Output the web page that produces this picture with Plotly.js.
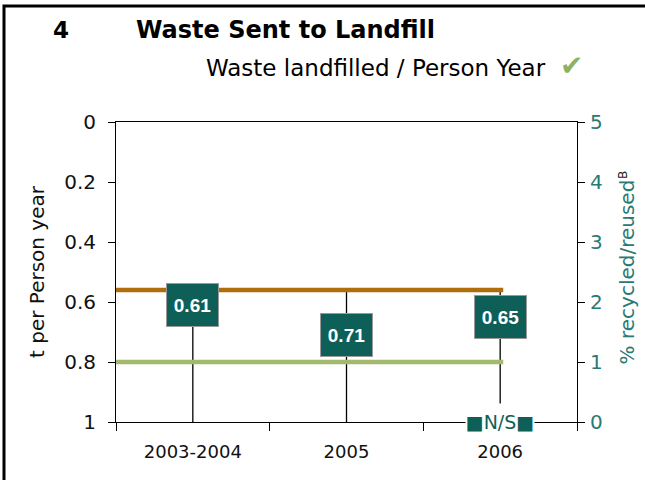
<!DOCTYPE html>
<html><head><meta charset="utf-8">
<script src="https://cdn.plot.ly/plotly-3.0.1.min.js"></script>
<style>html,body{margin:0;padding:0;background:#fff;}#chart{width:645px;height:480px;}</style>
</head><body><div id="chart"></div>
<script>
// ---- data ----
const categories = ['2003-2004', '2005', '2006'];
const landfillPerPerson = [0.61, 0.71, 0.65];      // t per person year (boxed labels)
const recycledLabels = [null, null, 'N/S'];          // % recycled/reused
const landfillTarget = 0.56;                          // orange line
const landfillBenchmark = 0.8;                        // green line
const targetSpan = [-0.5, 2.02];                      // x extent of the two reference lines
const yTickVals = [0, 0.2, 0.4, 0.6, 0.8, 1];
const yTickText = ['0', '0.2', '0.4', '0.6', '0.8', '1'];
const y2TickVals = [0, 1, 2, 3, 4, 5];
const categoryBounds = [-0.5, 0.5, 1.5, 2.5];

// ---- styles ----
const FONT = 'DejaVu Sans, Liberation Sans, Arial, sans-serif';
const FONT_BOX = 'Liberation Sans, Arial, sans-serif';
const TEAL = '#0f5f59';
const TEAL_TXT = '#2a7a73';
const ORANGE = '#b06d0c';
const GREEN = '#a3b96d';

const idx = categories.map((c, i) => i);

// drop lines from the target line down to the axis
const dropX = [], dropY = [];
idx.forEach(i => { dropX.push(i, i, null); dropY.push(landfillTarget, 1, null); });

const traces = [
  { x: dropX, y: dropY, mode: 'lines', line: { color: '#000', width: 1.3 }, hoverinfo: 'skip', showlegend: false },
  { x: targetSpan, y: [landfillTarget, landfillTarget], mode: 'lines', line: { color: ORANGE, width: 4.5 }, hoverinfo: 'skip', showlegend: false },
  { x: targetSpan, y: [landfillBenchmark, landfillBenchmark], mode: 'lines', line: { color: GREEN, width: 4.5 }, hoverinfo: 'skip', showlegend: false },
  { x: idx, y: idx.map(() => null), yaxis: 'y2', mode: 'markers', hoverinfo: 'skip', showlegend: false }
];

const annotations = [];
landfillPerPerson.forEach((v, i) => {
  annotations.push({
    x: i, y: v, xref: 'x', yref: 'y', text: '<b>' + v.toFixed(2) + '</b>', showarrow: false,
    font: { family: FONT_BOX, size: 19, color: '#fff' }, bgcolor: TEAL, bordercolor: '#9a9a9a',
    borderwidth: 1, borderpad: 0, width: 51, height: 42, xanchor: 'center', yanchor: 'middle'
  });
});
recycledLabels.forEach((t, i) => {
  if (!t) return;
  annotations.push({
    x: i, y: 1, xref: 'x', yref: 'y', text: '■' + t + '■', showarrow: false,
    font: { family: FONT, size: 19, color: TEAL }, bgcolor: '#fff', borderpad: 0,
    width: 68, height: 36, xanchor: 'center', yanchor: 'middle'
  });
});
// header texts (paper coords)
const px = p => (p - 116) / 461, py = p => (422 - p) / 300;
annotations.push(
  { xref: 'paper', yref: 'paper', x: px(51), y: py(30), xanchor: 'left', yanchor: 'middle', showarrow: false,
    text: '<b>4</b>', font: { family: FONT, size: 23, color: '#000' } },
  { xref: 'paper', yref: 'paper', x: px(548), y: py(68), xanchor: 'right', yanchor: 'middle', showarrow: false,
    text: 'Waste landfilled / Person Year', font: { family: FONT, size: 23, color: '#000' } },
  { xref: 'paper', yref: 'paper', x: px(571), y: py(66), xanchor: 'center', yanchor: 'middle', showarrow: false,
    text: '✔', font: { family: FONT, size: 28, color: '#8fb25e' } },
  // footnote marker of the right axis title
  { xref: 'paper', yref: 'paper', x: px(623), y: py(175), xanchor: 'center', yanchor: 'middle', showarrow: false,
    textangle: -90, text: 'B', font: { family: FONT, size: 12, color: '#222' } }
);

const layout = {
  width: 645, height: 480,
  margin: { l: 116, r: 68, t: 122, b: 58 },
  paper_bgcolor: '#fff', plot_bgcolor: '#fff',
  showlegend: false,
  font: { family: FONT, color: '#000' },
  title: {
    text: '<b>Waste Sent to Landfill</b>', font: { family: FONT, size: 24, color: '#000' },
    xref: 'paper', x: px(136), xanchor: 'left', yref: 'container', y: 1 - 30 / 480, yanchor: 'middle'
  },
  xaxis: {
    range: [-0.5, 2.5], tickmode: 'array', tickvals: idx, ticktext: categories, ticks: '',
    showline: true, linecolor: '#000', linewidth: 1, mirror: true, showgrid: false, zeroline: false,
    tickfont: { family: FONT, size: 18, color: '#111' }, ticklabelstandoff: 13,
    minor: { tickmode: 'array', tickvals: categoryBounds, ticks: 'outside', ticklen: 8, tickwidth: 1, tickcolor: '#000', showgrid: false }
  },
  yaxis: {
    range: [1, 0], tickmode: 'array', tickvals: yTickVals, ticktext: yTickText,
    ticks: 'outside', ticklen: 7, tickwidth: 1, tickcolor: '#000',
    showline: true, linecolor: '#000', linewidth: 1, showgrid: false, zeroline: false,
    tickfont: { family: FONT, size: 20, color: '#111' }, ticklabelstandoff: 8,
    title: { text: 't per Person year', font: { family: FONT, size: 20, color: '#111' }, standoff: 14 }
  },
  yaxis2: {
    overlaying: 'y', side: 'right', range: [0, 5], tickmode: 'array', tickvals: y2TickVals,
    ticks: 'outside', ticklen: 7, tickwidth: 1, tickcolor: '#000',
    showline: true, linecolor: '#000', linewidth: 1, showgrid: false, zeroline: false,
    tickfont: { family: FONT, size: 20, color: TEAL_TXT }, ticklabelstandoff: 1,
    title: { text: '% recycled/reused', font: { family: FONT, size: 20, color: TEAL_TXT }, standoff: 18 }
  },
  annotations: annotations,
  shapes: [
    { type: 'rect', xref: 'paper', yref: 'paper', x0: px(4), x1: px(700), y0: py(560), y1: py(6),
      line: { color: '#000', width: 3 }, fillcolor: 'rgba(0,0,0,0)', layer: 'above' }
  ]
};

Plotly.newPlot('chart', traces, layout, { staticPlot: true, displayModeBar: false });
</script>
</body></html>
